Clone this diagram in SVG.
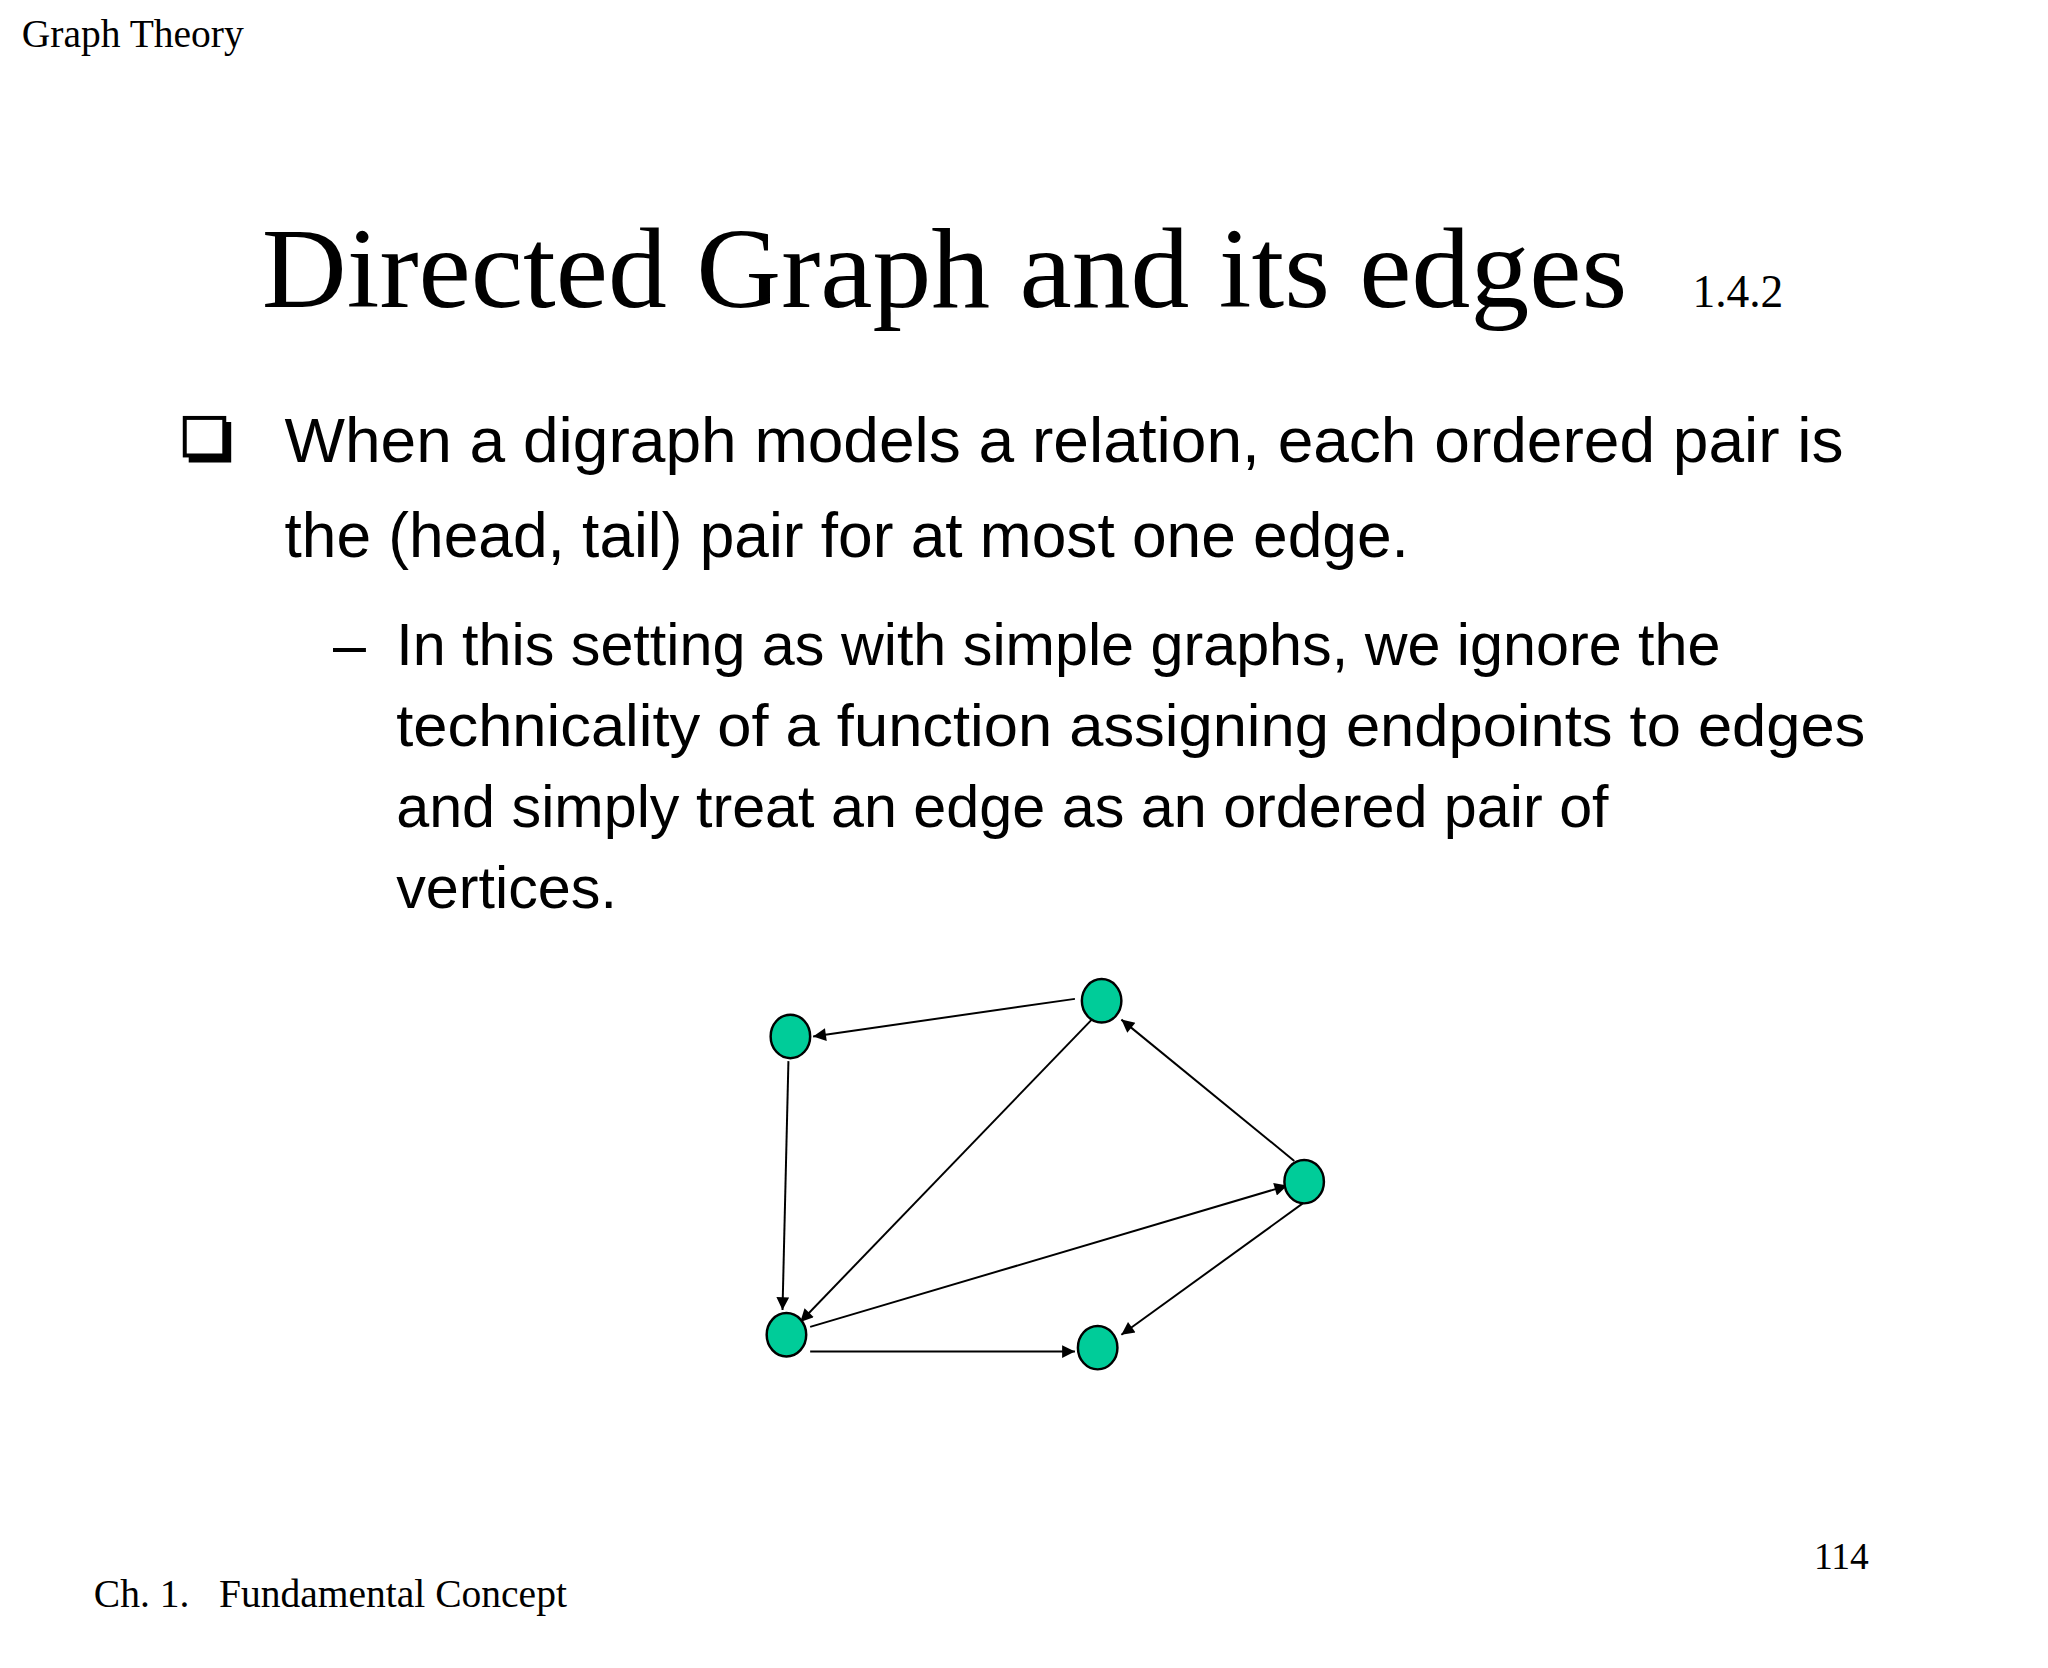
<svg xmlns="http://www.w3.org/2000/svg" width="2048" height="1668" viewBox="0 0 2048 1668">
<style>
.s{font-family:"Liberation Serif",serif;fill:#000}
.a{font-family:"Liberation Sans",Arial,sans-serif;fill:#000}
.n{fill:#00CC99;stroke:#000;stroke-width:2.5}
.e{stroke:#000;stroke-width:2;fill:none;marker-end:url(#ah2)}
</style>
<defs>
<marker id="ah2" viewBox="0 0 10 10" refX="10" refY="5" markerWidth="16" markerHeight="13" orient="auto" markerUnits="userSpaceOnUse"><path d="M0,0 L10,5 L0,10 z" fill="#000"/></marker></defs>
<rect width="2048" height="1668" fill="#fff"/>
<g transform="scale(0.988)">
<text class="s" x="22" y="48" font-size="40">Graph Theory</text>
<text class="s" x="265" y="311" font-size="116" textLength="1382" lengthAdjust="spacingAndGlyphs">Directed Graph and its edges</text>
<text class="s" x="1713" y="311" font-size="46">1.4.2</text>
<rect x="187" y="423" width="40" height="38" fill="#fff" stroke="#000" stroke-width="4"/>
<path d="M191,465 H231 V427" stroke="#000" stroke-width="6" fill="none"/>
<text class="a" x="288" y="468" font-size="63" textLength="1578" lengthAdjust="spacingAndGlyphs">When a digraph models a relation, each ordered pair is</text>
<text class="a" x="288" y="564" font-size="63">the (head, tail) pair for at most one edge.</text>
<text class="a" x="337" y="673" font-size="60">–</text>
<text class="a" x="401" y="673" font-size="60">In this setting as with simple graphs, we ignore the</text>
<text class="a" x="401" y="755" font-size="60" textLength="1487" lengthAdjust="spacingAndGlyphs">technicality of a function assigning endpoints to edges</text>
<text class="a" x="401" y="837" font-size="60">and simply treat an edge as an ordered pair of</text>
<text class="a" x="401" y="919" font-size="60">vertices.</text>
<g id="edges">
<line class="e" x1="1088" y1="1011" x2="823" y2="1049"/>
<line class="e" x1="798" y1="1074" x2="792" y2="1326"/>
<line class="e" x1="1105" y1="1032" x2="810" y2="1338"/>
<line class="e" x1="1310" y1="1175" x2="1135" y2="1032"/>
<line class="e" x1="820" y1="1343" x2="1303" y2="1200"/>
<line class="e" x1="1320" y1="1217" x2="1135" y2="1351"/>
<line class="e" x1="820" y1="1368" x2="1088" y2="1368"/>
</g>
<g id="nA"><ellipse class="n" cx="800" cy="1049" rx="20" ry="22"/></g>
<g id="nB"><ellipse class="n" cx="1115" cy="1013" rx="20" ry="22"/></g>
<g id="nC"><ellipse class="n" cx="1320" cy="1196" rx="20" ry="22"/></g>
<g id="nD"><ellipse class="n" cx="796" cy="1351" rx="20" ry="22"/></g>
<g id="nE"><ellipse class="n" cx="1111" cy="1364" rx="20" ry="22"/></g>
<text class="s" x="1836" y="1588" font-size="38">114</text>
<text class="s" x="95" y="1627" font-size="40" xml:space="preserve">Ch. 1.   Fundamental Concept</text>
</g>
</svg>
